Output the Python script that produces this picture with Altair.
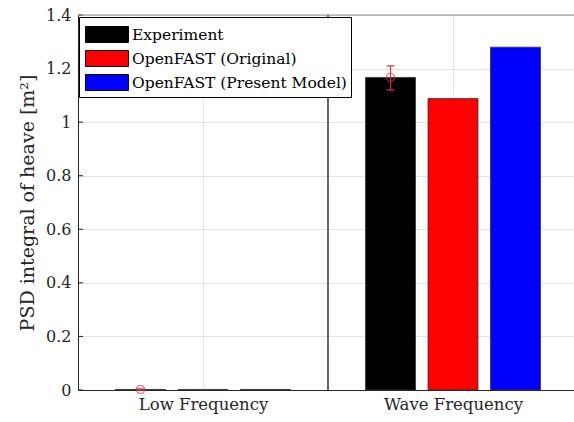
import altair as alt
import pandas as pd

categories = ["Low Frequency", "Wave Frequency"]
series = ["Experiment", "OpenFAST (Original)", "OpenFAST (Present Model)"]
colors = ["#000000", "#ff0000", "#0000ff"]
experiment = [0.002, 1.167]
original = [0.002, 1.088]
present = [0.002, 1.280]
exp_lo = [0.000, 1.120]
exp_hi = [0.004, 1.210]
y_ticks = [0, 0.2, 0.4, 0.6, 0.8, 1.0, 1.2, 1.4]

FONT = "DejaVu Serif"

rows = []
for gi, cat in enumerate(categories):
    for si, (name, vals) in enumerate(zip(series, [experiment, original, present])):
        rows.append({"cat": cat, "g": gi + 1, "s": si, "series": name, "value": vals[gi]})
bars_df = pd.DataFrame(rows)

err_df = pd.DataFrame({"cat": categories, "g": [1, 2], "mid": experiment, "lo": exp_lo, "hi": exp_hi})
ticks_df = pd.DataFrame({"t": y_ticks})
div_df = pd.DataFrame({"d": [1.5]})
top_df = pd.DataFrame({"t": [1.4]})

xscale = alt.Scale(domain=[0.5, 2.484], nice=False, zero=False)
yscale = alt.Scale(domain=[0, 1.4], nice=False)

bars = alt.Chart(bars_df).transform_calculate(
    x0="datum.g + (datum.s - 1) * 0.25 - 0.1",
    x1="datum.g + (datum.s - 1) * 0.25 + 0.1",
    base="0",
).mark_bar(stroke="#333333", strokeWidth=0.8).encode(
    x=alt.X("x0:Q", scale=xscale,
            axis=alt.Axis(values=[1, 2], title=None, grid=True, gridColor="#e3e3e3",
                          labelExpr="datum.value == 1 ? 'Low Frequency' : 'Wave Frequency'",
                          labelFont=FONT, labelFontSize=16.5, labelColor="#262626",
                          labelPadding=6, ticks=False, domainColor="#262626", domainWidth=1)),
    x2="x1:Q",
    y=alt.Y("value:Q", scale=yscale,
            axis=alt.Axis(values=y_ticks, format="~g", grid=True, gridColor="#e3e3e3",
                          title="PSD integral of heave [m²]", titleFont=FONT, titleFontSize=19,
                          titleFontWeight="normal", titleColor="#262626", titlePadding=8,
                          labelFont=FONT, labelFontSize=16, labelColor="#262626",
                          labelPadding=7, ticks=False, domainColor="#262626", domainWidth=1)),
    y2="base:Q",
    color=alt.Color("series:N", scale=alt.Scale(domain=series, range=colors),
                    legend=alt.Legend(title=None, orient="none", legendX=1, legendY=2,
                                      strokeColor="#000000", fillColor="#ffffff", padding=4,
                                      symbolType="M-1.654,-0.615H1.654V0.615H-1.654Z", symbolSize=676,
                                      symbolStrokeColor="#000000", symbolStrokeWidth=1,
                                      symbolOpacity=1, symbolOffset=10.5,
                                      labelFont=FONT, labelFontSize=15.5, labelColor="#000000",
                                      labelOffset=11.5, rowPadding=0, labelLimit=400)),
)

ytick = alt.Chart(ticks_df).mark_rule(color="#262626").encode(
    y=alt.Y("t:Q", scale=yscale), x=alt.value(0), x2=alt.value(5))

divider = alt.Chart(div_df).mark_rule(color="#000000", strokeWidth=1.2).encode(
    x=alt.X("d:Q", scale=xscale), y=alt.value(0), y2=alt.value(375))

topline = alt.Chart(top_df).mark_rule(color="#8c8c8c").encode(
    y=alt.Y("t:Q", scale=yscale), x=alt.value(0), x2=alt.value(496))

ERR = "#e0303a"
err_base = alt.Chart(err_df).transform_calculate(
    ex="datum.g - 0.25", ca="datum.g - 0.25 - 0.016", cb="datum.g - 0.25 + 0.016")
err_v = err_base.mark_rule(color=ERR, strokeWidth=1.2).encode(
    x=alt.X("ex:Q", scale=xscale), y=alt.Y("lo:Q", scale=yscale), y2="hi:Q")
cap_lo = err_base.mark_rule(color=ERR, strokeWidth=1.2).encode(
    x=alt.X("ca:Q", scale=xscale), x2="cb:Q", y=alt.Y("lo:Q", scale=yscale))
cap_hi = err_base.mark_rule(color=ERR, strokeWidth=1.2).encode(
    x=alt.X("ca:Q", scale=xscale), x2="cb:Q", y=alt.Y("hi:Q", scale=yscale))
err_pt = err_base.mark_point(shape="circle", filled=False, color=ERR, size=70, strokeWidth=1.1).encode(
    x=alt.X("ex:Q", scale=xscale), y=alt.Y("mid:Q", scale=yscale))

chart = alt.layer(bars, ytick, divider, topline, err_v, cap_lo, cap_hi, err_pt).properties(
    width=496, height=375,
    autosize=alt.AutoSizeParams(type="none"),
    padding={"left": 78, "top": 15, "right": 0, "bottom": 32},
).configure_view(stroke=None).configure(background="white")

chart.save("out.html", embed_options={"renderer": "svg", "actions": False})
